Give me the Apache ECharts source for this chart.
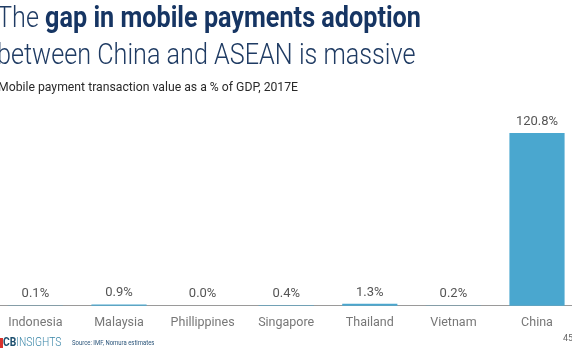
<!DOCTYPE html>
<html><head><meta charset="utf-8">
<script src="https://cdn.jsdelivr.net/npm/echarts@6/dist/echarts.min.js"></script>
<style>html,body{margin:0;padding:0;background:#fff}#c{width:572px;height:364px}</style>
</head><body><div id="c"></div>
<script>
const categories = ['Indonesia','Malaysia','Phillippines','Singapore','Thailand','Vietnam','China'];
const values = [0.1, 0.9, 0.0, 0.4, 1.3, 0.2, 120.8];
const titleLine1Light = 'The ';
const titleLine1Bold = 'gap in mobile payments adoption';
const titleLine2 = 'between China and ASEAN is massive';
const subtitle = 'Mobile payment transaction value as a % of GDP, 2017E';
const sourceText = 'Source: IMF, Nomura estimates';
const pageNum = '45';

const chart = echarts.init(document.getElementById('c'), null, {renderer:'canvas'});
const F = 'Roboto, "Noto Sans", sans-serif';
chart.setOption({
  animation:false,
  backgroundColor:'#fff',
  grid:{left:-6.4, width:585.2, top:119.8, bottom:58.3, containLabel:false, outerBoundsMode:'none'},
  xAxis:{type:'category', data:categories,
    axisLine:{lineStyle:{color:'#9a9a9a', width:1}},
    axisTick:{show:false},
    axisLabel:{color:'#777', fontFamily:F, fontSize:12.5, margin:11, interval:0, hideOverlap:false}
  },
  yAxis:{type:'value', min:0, max:130, show:false, splitLine:{show:false}},
  series:[{type:'bar', data:values, barWidth:'66%',
    itemStyle:{color:'#4aa7cf'},
    label:{show:true, position:'top', distance:5, color:'#555', fontFamily:F, fontSize:13,
      formatter:p=>p.value.toFixed(1)+'%'}
  }],
  graphic:[
    {type:'text', x:-3, y:4, scaleX:0.84, style:{
      text:'{l|'+titleLine1Light+'}{b|'+titleLine1Bold+'}',
      rich:{
        l:{fontFamily:F, fontSize:30, fontWeight:300, fill:'#1f3b63'},
        b:{fontFamily:F, fontSize:30, fontWeight:'bold', fill:'#163563'}
      }}},
    {type:'text', x:-3, y:41, scaleX:0.84, style:{text:titleLine2, fontFamily:F, fontSize:30, fontWeight:300, fill:'#1f3b63'}},
    {type:'text', x:-2, y:81, scaleX:0.94, style:{text:subtitle, fontFamily:F, fontSize:13, fill:'#2a2a2a'}},
    {type:'rect', shape:{x:0, y:338, width:3, height:10}, style:{fill:'#d8322c'}},
    {type:'text', x:3, y:336, scaleX:0.76, style:{
      text:'{b|CB}{l|INSIGHTS}',
      rich:{
        b:{fontFamily:F, fontSize:13.5, fontWeight:'bold', fill:'#1d4f6e'},
        l:{fontFamily:F, fontSize:13.5, fontWeight:300, fill:'#3a86a8'}
      }}},
    {type:'text', x:72, y:340, scaleX:0.85, style:{text:sourceText, fontFamily:F, fontSize:7, fill:'#2b557a'}},
    {type:'text', x:563, y:334, style:{text:pageNum, fontFamily:F, fontSize:9, fill:'#666'}}
  ]
});
</script></body></html>
